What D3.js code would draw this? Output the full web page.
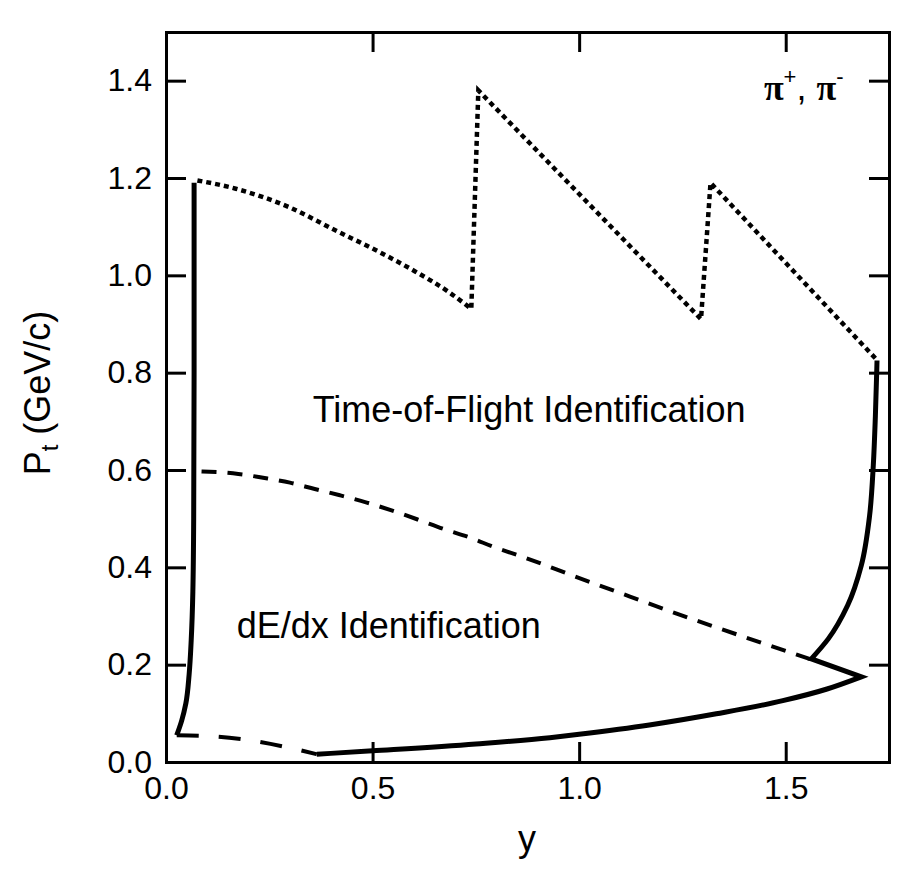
<!DOCTYPE html>
<html>
<head>
<meta charset="utf-8">
<script src="https://cdn.jsdelivr.net/npm/d3@7"></script>
<style>
  body { margin: 0; background: #fff; }
  text { font-family: "Liberation Sans", Arial, Helvetica, sans-serif; fill: #000; }
</style>
</head>
<body>
<div id="chart"></div>
<script>
// tick values
var xTicks = [0, 0.5, 1.0, 1.5];
var yTicks = [0, 0.2, 0.4, 0.6, 0.8, 1.0, 1.2, 1.4];

// time-of-flight upper limit (dotted): smooth arc then saw teeth
var tofArc = [[0.076, 1.195], [0.169, 1.178], [0.298, 1.14], [0.411, 1.092],
  [0.523, 1.045], [0.603, 1.008], [0.684, 0.966], [0.739, 0.931]];
var tofTeeth = [[0.739, 0.931], [0.756, 1.38], [1.295, 0.91], [1.318, 1.19], [1.722, 0.825]];

// dE/dx upper limit (dashed)
var dedxUpper = [[0.086, 0.597], [0.175, 0.592], [0.235, 0.584], [0.30, 0.574],
  [0.36, 0.561], [0.421, 0.548], [0.486, 0.533], [0.546, 0.517], [0.61, 0.498],
  [0.671, 0.479], [0.736, 0.461], [0.796, 0.441], [0.865, 0.421], [0.994, 0.38],
  [1.123, 0.34], [1.236, 0.305], [1.348, 0.272], [1.469, 0.237], [1.56, 0.211]];

// dE/dx lower part (dashed)
var dedxLower = [[0.026, 0.055], [0.11, 0.053], [0.2, 0.045], [0.3, 0.029], [0.365, 0.016]];

// acceptance boundary (solid)
var solidLeft = [[0.026, 0.055], [0.038, 0.085], [0.048, 0.12], [0.056, 0.18],
  [0.061, 0.25], [0.065, 0.35], [0.067, 0.50], [0.068, 0.80], [0.068, 1.19]];
var solidBottom = [[0.365, 0.016], [0.5, 0.023], [0.75, 0.037], [0.929, 0.05],
  [1.0, 0.057], [1.17, 0.076], [1.332, 0.099], [1.493, 0.126], [1.6, 0.15], [1.683, 0.175]];
var solidRight = [[1.562, 0.212], [1.603, 0.253], [1.65, 0.322], [1.683, 0.404],
  [1.703, 0.506], [1.712, 0.61], [1.717, 0.71], [1.721, 0.825]];

var width = 907, height = 873;

var svg = d3.select("#chart")
  .append("svg")
  .attr("width", width)
  .attr("height", height);

var x = d3.scaleLinear().domain([0, 1.75]).range([166, 889]);
var y = d3.scaleLinear().domain([0, 1.5]).range([762, 32]);

function lineWith(curve) {
  return d3.line()
    .x(function(d) { return x(d[0]); })
    .y(function(d) { return y(d[1]); })
    .curve(curve);
}
var smoothX = lineWith(d3.curveMonotoneX);
var smoothY = lineWith(d3.curveMonotoneY);
var straight = lineWith(d3.curveLinear);

// axes: four sides, ticks pointing inward
var fmt = d3.format(".1f");

var gBottom = svg.append("g")
  .attr("transform", "translate(0,762)")
  .call(d3.axisBottom(x).tickValues(xTicks).tickSize(-20).tickSizeOuter(0)
    .tickPadding(14).tickFormat(fmt));

var gLeft = svg.append("g")
  .attr("transform", "translate(166,0)")
  .call(d3.axisLeft(y).tickValues(yTicks).tickSize(-20).tickSizeOuter(0)
    .tickPadding(14).tickFormat(fmt));

var gTop = svg.append("g")
  .attr("transform", "translate(0,32)")
  .call(d3.axisTop(x).tickValues(xTicks).tickSize(-20).tickSizeOuter(0).tickFormat(""));

var gRight = svg.append("g")
  .attr("transform", "translate(889,0)")
  .call(d3.axisRight(y).tickValues(yTicks).tickSize(-20).tickSizeOuter(0).tickFormat(""));

[gBottom, gLeft, gTop, gRight].forEach(function(g) {
  g.attr("font-family", null).attr("font-size", null);
  g.select(".domain").attr("stroke", "#000").attr("stroke-width", 3).attr("stroke-linecap", "square");
  g.selectAll(".tick line").attr("stroke", "#000").attr("stroke-width", 3);
  g.selectAll(".tick text").style("font-size", "32px").attr("fill", "#000");
});

// curves
svg.append("path")
  .attr("d", smoothX(tofArc) + straight(tofTeeth).replace(/^M/, "L"))
  .attr("fill", "none")
  .attr("stroke", "#000")
  .attr("stroke-width", 4.5)
  .attr("stroke-dasharray", "5,4");

svg.append("path")
  .attr("d", smoothX(dedxUpper))
  .attr("fill", "none")
  .attr("stroke", "#000")
  .attr("stroke-width", 4)
  .attr("stroke-dasharray", "15,11");

svg.append("path")
  .attr("d", smoothX(dedxLower))
  .attr("fill", "none")
  .attr("stroke", "#000")
  .attr("stroke-width", 4)
  .attr("stroke-dasharray", "22,20");

svg.append("path")
  .attr("d", smoothY(solidLeft))
  .attr("fill", "none")
  .attr("stroke", "#000")
  .attr("stroke-width", 5);

svg.append("path")
  .attr("d", smoothX(solidBottom) + smoothY(solidRight).replace(/^M/, "L"))
  .attr("fill", "none")
  .attr("stroke", "#000")
  .attr("stroke-width", 5)
  .attr("stroke-linejoin", "miter")
  .attr("stroke-miterlimit", 10);

// region labels
svg.append("text")
  .attr("x", x(0.355))
  .attr("y", y(0.699))
  .style("font-size", "36px")
  .text("Time-of-Flight Identification");

svg.append("text")
  .attr("x", x(0.171))
  .attr("y", y(0.254))
  .style("font-size", "36px")
  .text("dE/dx Identification");

var pi = svg.append("text")
  .attr("x", x(1.64))
  .attr("y", y(1.36))
  .attr("text-anchor", "end")
  .style("font-size", "36px");
pi.append("tspan").style("font-family", "'Liberation Serif', serif").style("font-weight", "bold").text("π");
pi.append("tspan").attr("dy", -16).style("font-size", "22px").text("+");
pi.append("tspan").attr("dy", 16).text(", ");
pi.append("tspan").style("font-family", "'Liberation Serif', serif").style("font-weight", "bold").text("π");
pi.append("tspan").attr("dy", -16).style("font-size", "22px").text("-");

// axis titles
svg.append("text")
  .attr("x", 527)
  .attr("y", 851)
  .attr("text-anchor", "middle")
  .style("font-size", "36px")
  .text("y");

var yTitle = svg.append("text")
  .attr("transform", "translate(50,393) rotate(-90)")
  .attr("text-anchor", "middle")
  .style("font-size", "36px");
yTitle.append("tspan").text("P");
yTitle.append("tspan").attr("dy", 8).style("font-size", "24px").text("t");
yTitle.append("tspan").attr("dy", -8).text(" (GeV/c)");
</script>
</body>
</html>
